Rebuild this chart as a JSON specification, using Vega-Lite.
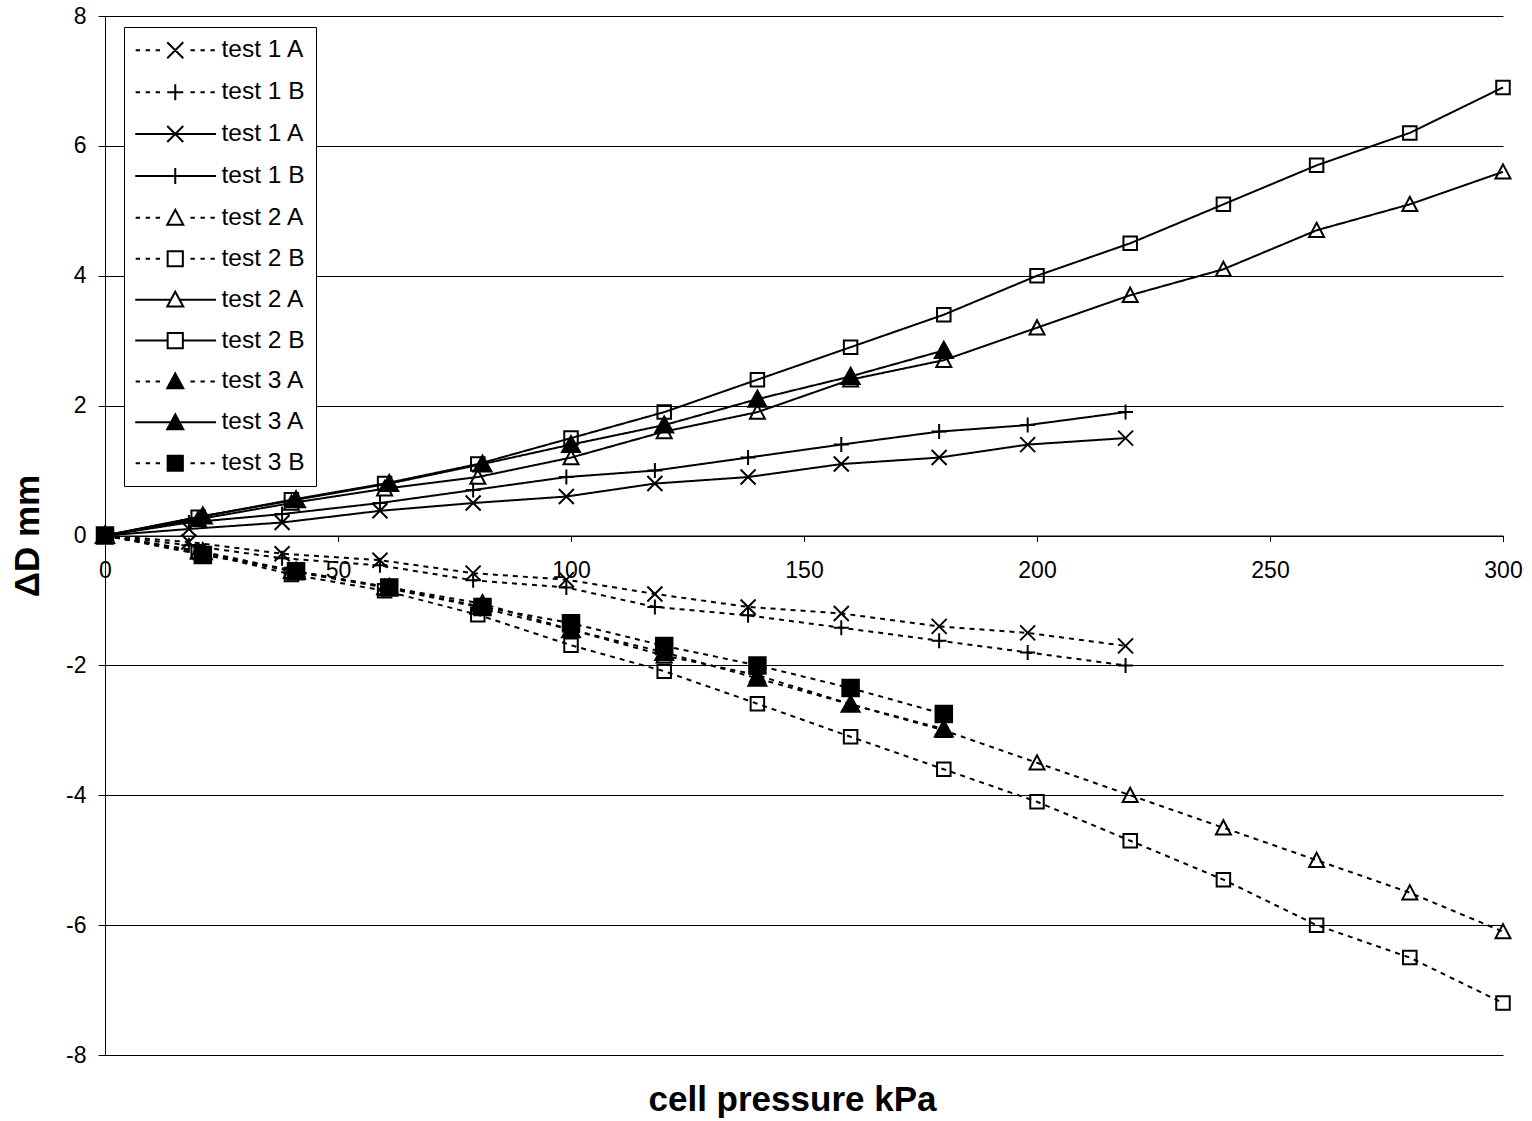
{
  "$schema": "https://vega.github.io/schema/vega-lite/v6.json",
  "width": 1398,
  "height": 1039,
  "autosize": {"type": "none"},
  "padding": {"left": 105, "top": 16, "right": 29, "bottom": 66},
  "background": "white",
  "config": {"view": {"stroke": null}, "font": "Liberation Sans"},
  "data": {"values": [
    {"s":"test 1 A|1","x":0,"y":0},{"s":"test 1 A|1","x":18,"y":-0.1},{"s":"test 1 A|1","x":38,"y":-0.28},{"s":"test 1 A|1","x":59,"y":-0.38},{"s":"test 1 A|1","x":79,"y":-0.58},{"s":"test 1 A|1","x":99,"y":-0.68},{"s":"test 1 A|1","x":118,"y":-0.9},{"s":"test 1 A|1","x":138,"y":-1.1},{"s":"test 1 A|1","x":158,"y":-1.2},{"s":"test 1 A|1","x":179,"y":-1.4},{"s":"test 1 A|1","x":198,"y":-1.5},{"s":"test 1 A|1","x":219,"y":-1.7},
    {"s":"test 1 B|2","x":0,"y":0},{"s":"test 1 B|2","x":18,"y":-0.15},{"s":"test 1 B|2","x":38,"y":-0.35},{"s":"test 1 B|2","x":59,"y":-0.46},{"s":"test 1 B|2","x":79,"y":-0.69},{"s":"test 1 B|2","x":99,"y":-0.8},{"s":"test 1 B|2","x":118,"y":-1.1},{"s":"test 1 B|2","x":138,"y":-1.23},{"s":"test 1 B|2","x":158,"y":-1.42},{"s":"test 1 B|2","x":179,"y":-1.62},{"s":"test 1 B|2","x":198,"y":-1.8},{"s":"test 1 B|2","x":219,"y":-2.0},
    {"s":"test 1 A|3","x":0,"y":0},{"s":"test 1 A|3","x":18,"y":0.1},{"s":"test 1 A|3","x":38,"y":0.2},{"s":"test 1 A|3","x":59,"y":0.38},{"s":"test 1 A|3","x":79,"y":0.5},{"s":"test 1 A|3","x":99,"y":0.6},{"s":"test 1 A|3","x":118,"y":0.8},{"s":"test 1 A|3","x":138,"y":0.9},{"s":"test 1 A|3","x":158,"y":1.1},{"s":"test 1 A|3","x":179,"y":1.2},{"s":"test 1 A|3","x":198,"y":1.4},{"s":"test 1 A|3","x":219,"y":1.5},
    {"s":"test 1 B|4","x":0,"y":0},{"s":"test 1 B|4","x":18,"y":0.2},{"s":"test 1 B|4","x":38,"y":0.33},{"s":"test 1 B|4","x":59,"y":0.5},{"s":"test 1 B|4","x":79,"y":0.7},{"s":"test 1 B|4","x":99,"y":0.9},{"s":"test 1 B|4","x":118,"y":1.0},{"s":"test 1 B|4","x":138,"y":1.2},{"s":"test 1 B|4","x":158,"y":1.4},{"s":"test 1 B|4","x":179,"y":1.6},{"s":"test 1 B|4","x":198,"y":1.7},{"s":"test 1 B|4","x":219,"y":1.9},
    {"s":"test 2 A|5","x":0,"y":0},{"s":"test 2 A|5","x":20,"y":-0.25},{"s":"test 2 A|5","x":40,"y":-0.55},{"s":"test 2 A|5","x":60,"y":-0.8},{"s":"test 2 A|5","x":80,"y":-1.1},{"s":"test 2 A|5","x":100,"y":-1.45},{"s":"test 2 A|5","x":120,"y":-1.85},{"s":"test 2 A|5","x":140,"y":-2.15},{"s":"test 2 A|5","x":160,"y":-2.6},{"s":"test 2 A|5","x":180,"y":-3.0},{"s":"test 2 A|5","x":200,"y":-3.5},{"s":"test 2 A|5","x":220,"y":-4.0},{"s":"test 2 A|5","x":240,"y":-4.5},{"s":"test 2 A|5","x":260,"y":-5.0},{"s":"test 2 A|5","x":280,"y":-5.5},{"s":"test 2 A|5","x":300,"y":-6.1},
    {"s":"test 2 B|6","x":0,"y":0},{"s":"test 2 B|6","x":20,"y":-0.25},{"s":"test 2 B|6","x":40,"y":-0.6},{"s":"test 2 B|6","x":60,"y":-0.85},{"s":"test 2 B|6","x":80,"y":-1.22},{"s":"test 2 B|6","x":100,"y":-1.69},{"s":"test 2 B|6","x":120,"y":-2.09},{"s":"test 2 B|6","x":140,"y":-2.59},{"s":"test 2 B|6","x":160,"y":-3.1},{"s":"test 2 B|6","x":180,"y":-3.6},{"s":"test 2 B|6","x":200,"y":-4.1},{"s":"test 2 B|6","x":220,"y":-4.7},{"s":"test 2 B|6","x":240,"y":-5.3},{"s":"test 2 B|6","x":260,"y":-6.0},{"s":"test 2 B|6","x":280,"y":-6.5},{"s":"test 2 B|6","x":300,"y":-7.2},
    {"s":"test 2 A|7","x":0,"y":0},{"s":"test 2 A|7","x":20,"y":0.25},{"s":"test 2 A|7","x":40,"y":0.5},{"s":"test 2 A|7","x":60,"y":0.72},{"s":"test 2 A|7","x":80,"y":0.9},{"s":"test 2 A|7","x":100,"y":1.2},{"s":"test 2 A|7","x":120,"y":1.6},{"s":"test 2 A|7","x":140,"y":1.9},{"s":"test 2 A|7","x":160,"y":2.4},{"s":"test 2 A|7","x":180,"y":2.7},{"s":"test 2 A|7","x":200,"y":3.2},{"s":"test 2 A|7","x":220,"y":3.7},{"s":"test 2 A|7","x":240,"y":4.1},{"s":"test 2 A|7","x":260,"y":4.7},{"s":"test 2 A|7","x":280,"y":5.1},{"s":"test 2 A|7","x":300,"y":5.6},
    {"s":"test 2 B|8","x":0,"y":0},{"s":"test 2 B|8","x":20,"y":0.28},{"s":"test 2 B|8","x":40,"y":0.55},{"s":"test 2 B|8","x":60,"y":0.8},{"s":"test 2 B|8","x":80,"y":1.1},{"s":"test 2 B|8","x":100,"y":1.5},{"s":"test 2 B|8","x":120,"y":1.9},{"s":"test 2 B|8","x":140,"y":2.4},{"s":"test 2 B|8","x":160,"y":2.9},{"s":"test 2 B|8","x":180,"y":3.4},{"s":"test 2 B|8","x":200,"y":4.0},{"s":"test 2 B|8","x":220,"y":4.5},{"s":"test 2 B|8","x":240,"y":5.1},{"s":"test 2 B|8","x":260,"y":5.7},{"s":"test 2 B|8","x":280,"y":6.2},{"s":"test 2 B|8","x":300,"y":6.9},
    {"s":"test 3 A|9","x":0,"y":0},{"s":"test 3 A|9","x":21,"y":-0.25},{"s":"test 3 A|9","x":41,"y":-0.55},{"s":"test 3 A|9","x":61,"y":-0.8},{"s":"test 3 A|9","x":81,"y":-1.05},{"s":"test 3 A|9","x":100,"y":-1.45},{"s":"test 3 A|9","x":120,"y":-1.8},{"s":"test 3 A|9","x":140,"y":-2.2},{"s":"test 3 A|9","x":160,"y":-2.6},{"s":"test 3 A|9","x":180,"y":-2.98},
    {"s":"test 3 A|10","x":0,"y":0},{"s":"test 3 A|10","x":21,"y":0.3},{"s":"test 3 A|10","x":41,"y":0.55},{"s":"test 3 A|10","x":61,"y":0.8},{"s":"test 3 A|10","x":81,"y":1.1},{"s":"test 3 A|10","x":100,"y":1.4},{"s":"test 3 A|10","x":120,"y":1.7},{"s":"test 3 A|10","x":140,"y":2.1},{"s":"test 3 A|10","x":160,"y":2.45},{"s":"test 3 A|10","x":180,"y":2.85},
    {"s":"test 3 B|11","x":0,"y":0},{"s":"test 3 B|11","x":21,"y":-0.3},{"s":"test 3 B|11","x":41,"y":-0.55},{"s":"test 3 B|11","x":61,"y":-0.8},{"s":"test 3 B|11","x":81,"y":-1.1},{"s":"test 3 B|11","x":100,"y":-1.35},{"s":"test 3 B|11","x":120,"y":-1.7},{"s":"test 3 B|11","x":140,"y":-2.0},{"s":"test 3 B|11","x":160,"y":-2.35},{"s":"test 3 B|11","x":180,"y":-2.75}
  ]},
  "encoding": {
    "x": {"field": "x", "type": "quantitative",
      "scale": {"domain": [0, 300], "nice": false},
      "axis": {"title": "cell pressure kPa", "values": [0, 50, 100, 150, 200, 250, 300], "offset": -519.5, "grid": false,
        "domainColor": "black", "domainWidth": 1, "tickColor": "black", "tickSize": 6, "labelFontSize": 23, "labelColor": "black",
        "labelPadding": 18, "labelFlush": false, "labelOverlap": false, "labelFont": "Liberation Sans",
        "titleFont": "Liberation Sans", "titleFontSize": 35, "titleFontWeight": "bold", "titleColor": "black", "titlePadding": 500,
        "titleX": 687, "titleAlign": "center"}},
    "y": {"field": "y", "type": "quantitative",
      "scale": {"domain": [-8, 8], "nice": false},
      "axis": {"title": "ΔD mm", "values": [-8, -6, -4, -2, 0, 2, 4, 6, 8], "grid": true, "gridColor": "black", "gridWidth": 1,
        "domainColor": "black", "domainWidth": 1, "tickColor": "black", "tickSize": 7, "labelFontSize": 23, "labelColor": "black",
        "labelPadding": 12, "labelExpr": "toString(datum.value)", "labelFont": "Liberation Sans",
        "titleFont": "Liberation Sans", "titleFontSize": 35, "titleFontWeight": "bold", "titleColor": "black", "titlePadding": 20}}
  },
  "layer": [
    {"mark": {"type": "line", "color": "black", "strokeWidth": 2},
     "encoding": {"strokeDash": {"field": "s", "type": "nominal",
       "scale": {"domain": ["test 1 A|1","test 1 B|2","test 1 A|3","test 1 B|4","test 2 A|5","test 2 B|6","test 2 A|7","test 2 B|8","test 3 A|9","test 3 A|10","test 3 B|11"],
                 "range": [[5,5],[5,5],[1,0],[1,0],[5,5],[5,5],[1,0],[1,0],[5,5],[1,0],[5,5]]},
       "legend": null}}},
    {"mark": {"type": "point", "filled": true, "stroke": "black", "strokeWidth": 2, "size": 225, "opacity": 1},
     "encoding": {
       "shape": {"field": "s", "type": "nominal",
         "scale": {"domain": ["test 1 A|1","test 1 B|2","test 1 A|3","test 1 B|4","test 2 A|5","test 2 B|6","test 2 A|7","test 2 B|8","test 3 A|9","test 3 A|10","test 3 B|11"],
                   "range": ["M-1,-1L1,1M-1,1L1,-1","M-1,0H1M0,-1V1","M-1,-1L1,1M-1,1L1,-1","M-1,0H1M0,-1V1","M0,-1L1,0.9L-1,0.9Z","M-0.9,-0.9H0.9V0.9H-0.9Z","M0,-1L1,0.9L-1,0.9Z","M-0.9,-0.9H0.9V0.9H-0.9Z","M0,-1.15L1.2,1L-1.2,1Z","M0,-1.15L1.2,1L-1.2,1Z","M-1.1,-1.1H1.1V1.1H-1.1Z"]},
         "legend": null},
       "fill": {"field": "s", "type": "nominal",
         "scale": {"domain": ["test 1 A|1","test 1 B|2","test 1 A|3","test 1 B|4","test 2 A|5","test 2 B|6","test 2 A|7","test 2 B|8","test 3 A|9","test 3 A|10","test 3 B|11"],
                   "range": ["transparent","transparent","transparent","transparent","transparent","transparent","transparent","transparent","black","black","black"]},
         "legend": null}}},
    {"transform": [{"filter": "false"}],
     "mark": {"type": "point", "filled": false, "color": "black", "stroke": "black", "strokeWidth": 2},
     "encoding": {
       "shape": {"field": "s", "type": "nominal",
         "scale": {"domain": ["test 1 A|1","test 1 B|2","test 1 A|3","test 1 B|4","test 2 A|5","test 2 B|6","test 2 A|7","test 2 B|8","test 3 A|9","test 3 A|10","test 3 B|11"],
                   "range": [
                     "M-0.95,0H-0.4M0.3,0H0.85M1.55,0H2.1M5.9,0H6.45M7.15,0H7.7M8.4,0H8.95M3,-1L5,1M3,1L5,-1",
                     "M-0.95,0H-0.4M0.3,0H0.85M1.55,0H2.1M5.9,0H6.45M7.15,0H7.7M8.4,0H8.95M3,0H5M4,-1V1",
                     "M-1,0H9.1M3,-1L5,1M3,1L5,-1",
                     "M-1,0H9.1M4,-1V1",
                     "M-0.95,0H-0.4M0.3,0H0.85M1.55,0H2.1M5.9,0H6.45M7.15,0H7.7M8.4,0H8.95M4,-1L5,0.85L3,0.85Z",
                     "M-0.95,0H-0.4M0.3,0H0.85M1.55,0H2.1M5.9,0H6.45M7.15,0H7.7M8.4,0H8.95M3.05,-0.95H4.95V0.95H3.05Z",
                     "M-1,0H3.46M4.54,0H9.1M4,-1L5,0.85L3,0.85Z",
                     "M-1,0H3.05M4.95,0H9.1M3.05,-0.95H4.95V0.95H3.05Z",
                     "M-0.95,0H-0.4M0.3,0H0.85M1.55,0H2.1M5.9,0H6.45M7.15,0H7.7M8.4,0H8.95M4,-1L5,0.85L3,0.85Z",
                     "M-1,0H9.1M4,-1L5,0.85L3,0.85Z",
                     "M-0.95,0H-0.4M0.3,0H0.85M1.55,0H2.1M5.9,0H6.45M7.15,0H7.7M8.4,0H8.95M3.05,-0.95H4.95V0.95H3.05Z"]},
         "legend": {"title": null, "orient": "none", "legendX": 19, "legendY": 11, "labelExpr": "split(datum.label, '|')[0]",
           "labelFontSize": 24.5, "labelFont": "Liberation Sans", "labelColor": "black", "symbolSize": 256, "symbolStrokeWidth": 2,
           "symbolOpacity": 1, "rowPadding": 15.9, "padding": 11, "strokeColor": "black", "fillColor": "white",
           "labelOffset": 66, "symbolOffset": -4, "labelLimit": 0,
           "encode": {"symbols": {"update": {"stroke": {"value": "black"}, "strokeWidth": {"value": 2}}}}}},
       "fill": {"field": "s", "type": "nominal",
         "scale": {"domain": ["test 1 A|1","test 1 B|2","test 1 A|3","test 1 B|4","test 2 A|5","test 2 B|6","test 2 A|7","test 2 B|8","test 3 A|9","test 3 A|10","test 3 B|11"],
                   "range": ["white","white","white","white","white","white","white","white","black","black","black"]},
         "legend": {"title": null, "orient": "none", "legendX": 19, "legendY": 11, "labelExpr": "split(datum.label, '|')[0]",
           "labelFontSize": 24.5, "labelFont": "Liberation Sans", "labelColor": "black", "symbolSize": 256, "symbolStrokeWidth": 2,
           "symbolOpacity": 1, "rowPadding": 15.9, "padding": 11, "strokeColor": "black", "fillColor": "white",
           "labelOffset": 66, "symbolOffset": -4, "labelLimit": 0,
           "encode": {"symbols": {"update": {"stroke": {"value": "black"}, "strokeWidth": {"value": 2}}}}}}}}
  ],
  "resolve": {"scale": {"shape": "independent", "fill": "independent"}}
}
